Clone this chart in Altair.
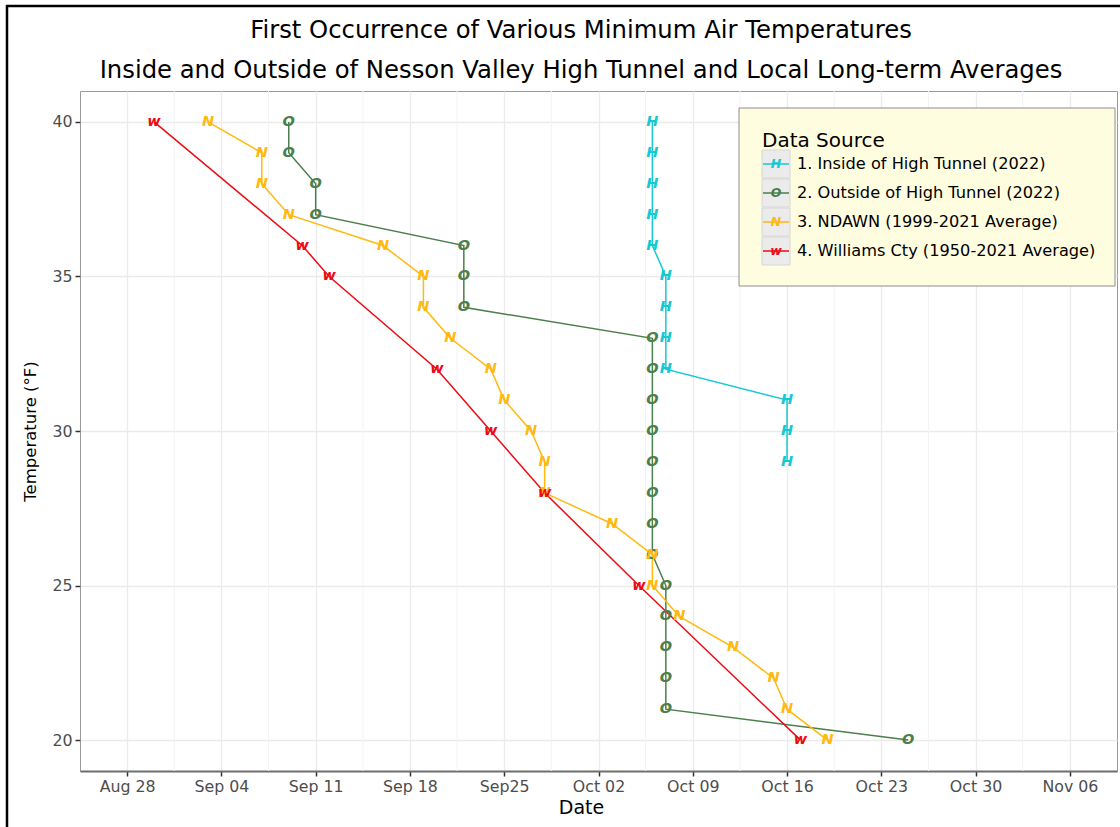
import altair as alt
import pandas as pd

# ---- series values (temperature in °F, date of first occurrence) ----
inside_temps = [40, 39, 38, 37, 36, 35, 34, 33, 32, 31, 30, 29]
inside_dates = ["2022-10-06", "2022-10-06", "2022-10-06", "2022-10-06", "2022-10-06",
                "2022-10-07", "2022-10-07", "2022-10-07", "2022-10-07",
                "2022-10-16", "2022-10-16", "2022-10-16"]

outside_temps = [40, 39, 38, 37, 36, 35, 34, 33, 32, 31, 30, 29, 28, 27, 26, 25, 24, 23, 22, 21, 20]
outside_dates = ["2022-09-09", "2022-09-09", "2022-09-11", "2022-09-11", "2022-09-22",
                 "2022-09-22", "2022-09-22", "2022-10-06", "2022-10-06", "2022-10-06",
                 "2022-10-06", "2022-10-06", "2022-10-06", "2022-10-06", "2022-10-06",
                 "2022-10-07", "2022-10-07", "2022-10-07", "2022-10-07", "2022-10-07",
                 "2022-10-25"]

ndawn_temps = [40, 39, 38, 37, 36, 35, 34, 33, 32, 31, 30, 29, 28, 27, 26, 25, 24, 23, 22, 21, 20]
ndawn_dates = ["2022-09-03", "2022-09-07", "2022-09-07", "2022-09-09", "2022-09-16",
               "2022-09-19", "2022-09-19", "2022-09-21", "2022-09-24", "2022-09-25",
               "2022-09-27", "2022-09-28", "2022-09-28", "2022-10-03", "2022-10-06",
               "2022-10-06", "2022-10-08", "2022-10-12", "2022-10-15", "2022-10-16",
               "2022-10-19"]

williams_temps = [40, 36, 35, 32, 30, 28, 25, 20]
williams_dates = ["2022-08-30", "2022-09-10", "2022-09-12", "2022-09-20",
                  "2022-09-24", "2022-09-28", "2022-10-05", "2022-10-17"]

series_names = ["1. Inside of High Tunnel (2022)",
                "2. Outside of High Tunnel (2022)",
                "3. NDAWN (1999-2021 Average)",
                "4. Williams Cty (1950-2021 Average)"]
series_symbols = ["H", "O", "N", "w"]
series_colors = ["#16C8D2", "#4B7F4B", "#FFB90F", "#EE0A14"]

title_lines = ["First Occurrence of Various Minimum Air Temperatures",
               "Inside and Outside of Nesson Valley High Tunnel and Local Long-term Averages"]

# ---- axis ticks ----
x_tick_dates = ["2022-08-28", "2022-09-04", "2022-09-11", "2022-09-18", "2022-09-25",
                "2022-10-02", "2022-10-09", "2022-10-16", "2022-10-23", "2022-10-30",
                "2022-11-06"]
x_tick_labels = ["Aug 28", "Sep 04", "Sep 11", "Sep 18", "Sep25", "Oct 02",
                 "Oct 09", "Oct 16", "Oct 23", "Oct 30", "Nov 06"]
x_minor_dates = ["2022-08-31T12:00:00", "2022-09-07T12:00:00", "2022-09-14T12:00:00",
                 "2022-09-21T12:00:00", "2022-09-28T12:00:00", "2022-10-05T12:00:00",
                 "2022-10-12T12:00:00", "2022-10-19T12:00:00", "2022-10-26T12:00:00",
                 "2022-11-02T12:00:00"]
y_ticks = [20, 25, 30, 35, 40]

FONT = "DejaVu Sans"


def utc_dt(s):
    t = pd.Timestamp(s)
    return alt.DateTime(year=t.year, month=t.month, date=t.day,
                        hours=t.hour, minutes=t.minute, utc=True)


frames = []
for name, sym, temps, dates in zip(series_names, series_symbols,
                                   [inside_temps, outside_temps, ndawn_temps, williams_temps],
                                   [inside_dates, outside_dates, ndawn_dates, williams_dates]):
    frames.append(pd.DataFrame({"series": name, "symbol": sym, "temp": temps, "date": dates}))
df = pd.concat(frames, ignore_index=True)

t0_ms = int(pd.Timestamp(x_tick_dates[0], tz="UTC").timestamp() * 1000)
label_list = "[" + ",".join("'%s'" % s for s in x_tick_labels) + "]"
label_expr = label_list + "[round((datum.value - %d) / 604800000)]" % t0_ms

x_scale = alt.Scale(type="utc", domain=[utc_dt("2022-08-24T12:00:00"), utc_dt("2022-11-09T12:00:00")])
y_scale = alt.Scale(domain=[19, 41])
color_scale = alt.Scale(domain=series_names, range=series_colors)

x_axis = alt.Axis(values=[utc_dt(d) for d in x_tick_dates], labelExpr=label_expr,
                  title="Date", titleX=501, titlePadding=5, titleFontSize=19,
                  domainColor="#6E6E6E", domainWidth=2, tickColor="#333333",
                  tickSize=5, tickWidth=1.5, labelPadding=3)
y_axis = alt.Axis(values=y_ticks, title="Temperature (°F)", domain=False,
                  tickColor="#333333", tickSize=5, tickWidth=1.5, labelPadding=3,
                  titlePadding=13, titleFontSize=16.5)

x_enc = alt.X("date:T", scale=x_scale, axis=x_axis)
y_enc = alt.Y("temp:Q", scale=y_scale, axis=y_axis)

# faint minor vertical gridlines between the weekly ticks
minor = alt.Chart(pd.DataFrame({"date": x_minor_dates})).mark_rule(
    color="#F3F3F3", strokeWidth=1
).encode(x=alt.X("date:T", scale=x_scale, axis=x_axis))

lines = alt.Chart(df).mark_line(strokeWidth=1.5).encode(
    x=x_enc, y=y_enc,
    color=alt.Color("series:N", scale=color_scale, legend=None),
    detail="series:N",
    order=alt.Order("temp:Q", sort="descending"),
)

points = alt.Chart(df).mark_text(
    font=FONT, fontSize=14.5, fontWeight="bold", fontStyle="italic",
    align="center", baseline="middle"
).encode(
    x=x_enc, y=y_enc,
    text="symbol:N",
    color=alt.Color("series:N", scale=color_scale, legend=None),
)

one = pd.DataFrame({"k": [0]})

# ---- two-line heading above the panel ----
heading = [
    alt.Chart(one).mark_text(font=FONT, fontSize=24.3, align="center", baseline="alphabetic",
                             color="black").encode(
        x=alt.value(501), y=alt.value(yy), text=alt.value(line))
    for line, yy in zip(title_lines, [-53, -13])
]

# ---- legend drawn inside the panel ----
legend_layers = [
    alt.Chart(one).mark_rect(fill="#FFFDE0", stroke="#8C8C8C", strokeWidth=1).encode(
        x=alt.value(659), x2=alt.value(1035), y=alt.value(17), y2=alt.value(195)),
    alt.Chart(one).mark_text(font=FONT, fontSize=20, align="left", baseline="alphabetic",
                             color="black").encode(
        x=alt.value(682), y=alt.value(56), text=alt.value("Data Source")),
]
row_y = [73, 102, 131, 160]
for name, sym, col, yy in zip(series_names, series_symbols, series_colors, row_y):
    legend_layers += [
        alt.Chart(one).mark_rect(fill="#EBEBEB", stroke="#D6D6D6", strokeWidth=1).encode(
            x=alt.value(682), x2=alt.value(710), y=alt.value(yy - 14), y2=alt.value(yy + 14)),
        alt.Chart(one).mark_rule(color=col, strokeWidth=1.5).encode(
            x=alt.value(683), x2=alt.value(709), y=alt.value(yy)),
        alt.Chart(one).mark_text(font=FONT, fontSize=12.5, fontWeight="bold", fontStyle="italic",
                                 align="center", baseline="middle", color=col).encode(
            x=alt.value(696), y=alt.value(yy), text=alt.value(sym)),
        alt.Chart(one).mark_text(font=FONT, fontSize=16.2, align="left", baseline="middle",
                                 color="black").encode(
            x=alt.value(717), y=alt.value(yy), text=alt.value(name)),
    ]

# outer frame of the figure (left and top edges)
frame = [
    alt.Chart(one).mark_rule(color="black", strokeWidth=2.5).encode(
        x=alt.value(-73), y=alt.value(-86), y2=alt.value(740)),
    alt.Chart(one).mark_rule(color="black", strokeWidth=2.5).encode(
        x=alt.value(-74), x2=alt.value(1045), y=alt.value(-85)),
]

chart = alt.layer(minor, lines, points, *legend_layers, *heading, *frame).properties(
    width=1037, height=680,
    padding={"left": 80, "top": 91, "right": 3, "bottom": 56},
    autosize=alt.AutoSizeParams(type="none"),
    background="white",
).configure_view(
    stroke="#9A9A9A", strokeWidth=1, fill="white"
).configure_axis(
    gridColor="#EBEBEB", gridWidth=1.3,
    labelFont=FONT, labelFontSize=15.8, labelColor="#4D4D4D",
    titleFont=FONT, titleFontWeight="normal", titleColor="black",
)

chart.save("out.html", embed_options={"renderer": "svg", "actions": False})
